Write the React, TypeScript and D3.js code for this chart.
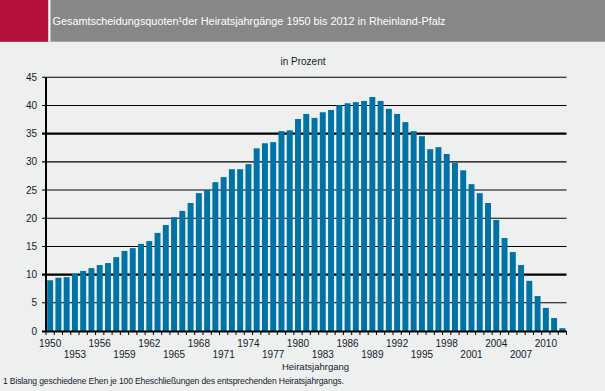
import React from "react";
import * as d3 from "d3";

const years: number[] = d3.range(1950, 2013);
const values: number[] = [
  9.0, 9.45, 9.55, 10.15, 10.65, 11.15, 11.7, 12.05, 13.1, 14.2,
  14.7, 15.45, 15.95, 17.4, 18.8, 20.2, 21.3, 22.7, 24.45, 25.0,
  26.4, 27.3, 28.7, 28.7, 29.6, 32.4, 33.3, 33.5, 35.45, 35.6,
  37.6, 38.5, 37.8, 38.8, 39.2, 40.05, 40.4, 40.6, 40.8, 41.5,
  40.8, 39.4, 38.5, 37.05, 35.45, 34.55, 32.25, 32.6, 31.4, 29.8,
  28.5, 26.05, 24.45, 22.7, 19.7, 16.5, 14.0, 11.7, 8.9, 6.2,
  4.1, 2.3, 0.5,
];
const yTicks: number[] = [0, 5, 10, 15, 20, 25, 30, 35, 40, 45];
const boldTicks: number[] = [10, 35];
const title = "Gesamtscheidungsquoten¹der Heiratsjahrgänge 1950 bis  2012 in Rheinland-Pfalz";
const unitLabel = "in Prozent";
const xTitle = "Heiratsjahrgang";
const footnote = "1 Bislang geschiedene Ehen je 100 Eheschließungen des entsprechenden Heiratsjahrgangs.";

export default function App() {
  const W = 605, H = 391;
  const left = 46, right = 566.5, top = 77.3, bottom = 331;
  const x = d3.scaleBand<number>().domain(years).range([left, right]).paddingInner(0.28).paddingOuter(0.14);
  const y = d3.scaleLinear().domain([0, 45]).range([bottom, top]);
  const step = x.step();
  const font = "Arial, 'Liberation Sans', sans-serif";
  const txt = "#151a2a";
  return (
    <svg width={W} height={H} style={{ position: "absolute", left: 0, top: 0, display: "block" }} fontFamily={font}>
      <rect x={0} y={0} width={W} height={H} fill="#eef0f0" />
      <rect x={0} y={0} width={W} height={41.7} fill="#878787" />
      <rect x={0} y={0} width={48.3} height={41.7} fill="#b5103c" />
      <rect x={48.3} y={0} width={2.2} height={41.7} fill="#f4f4f4" />
      <text x={52.5} y={25} fill="#ffffff" fontSize={10.85}>{title}</text>
      <text x={303} y={65} fill={txt} fontSize={10} textAnchor="middle">{unitLabel}</text>
      {yTicks.filter((t) => t > 0).map((t) => (
        <line key={"g" + t} x1={left - 4} x2={right} y1={y(t)} y2={y(t)}
          stroke="#000" strokeWidth={boldTicks.includes(t) ? 2.2 : 1.1} />
      ))}
      {yTicks.map((t) => (
        <text key={"yl" + t} x={37} y={y(t) + 3.5} fill={txt} fontSize={10} textAnchor="end">{t}</text>
      ))}
      {years.map((yr, i) => (
        <rect key={yr} x={x(yr)!} y={y(values[i])} width={x.bandwidth()} height={y(0) - y(values[i])} fill="#0073a4" />
      ))}
      <line x1={left} x2={left} y1={top} y2={bottom + 1} stroke="#000" strokeWidth={2} />
      <line x1={left - 4} x2={right} y1={bottom + 0.5} y2={bottom + 0.5} stroke="#000" strokeWidth={1.8} />
      {d3.range(0, years.length + 1).map((i) => (
        <line key={"t" + i} x1={left + i * step} x2={left + i * step} y1={bottom} y2={bottom + 4} stroke="#000" strokeWidth={1} />
      ))}
      {years.filter((yr) => (yr - 1950) % 3 === 0).map((yr) => {
        const k = (yr - 1950) / 3;
        return (
          <text key={"xl" + yr} x={x(yr)! + x.bandwidth() / 2} y={k % 2 === 0 ? 346.5 : 358} fill={txt} fontSize={10} textAnchor="middle">{yr}</text>
        );
      })}
      <text x={315.5} y={369.5} fill={txt} fontSize={9.5} textAnchor="middle">{xTitle}</text>
      <text x={3} y={384} fill={txt} fontSize={8.6} letterSpacing={-0.15}>{footnote}</text>
    </svg>
  );
}
